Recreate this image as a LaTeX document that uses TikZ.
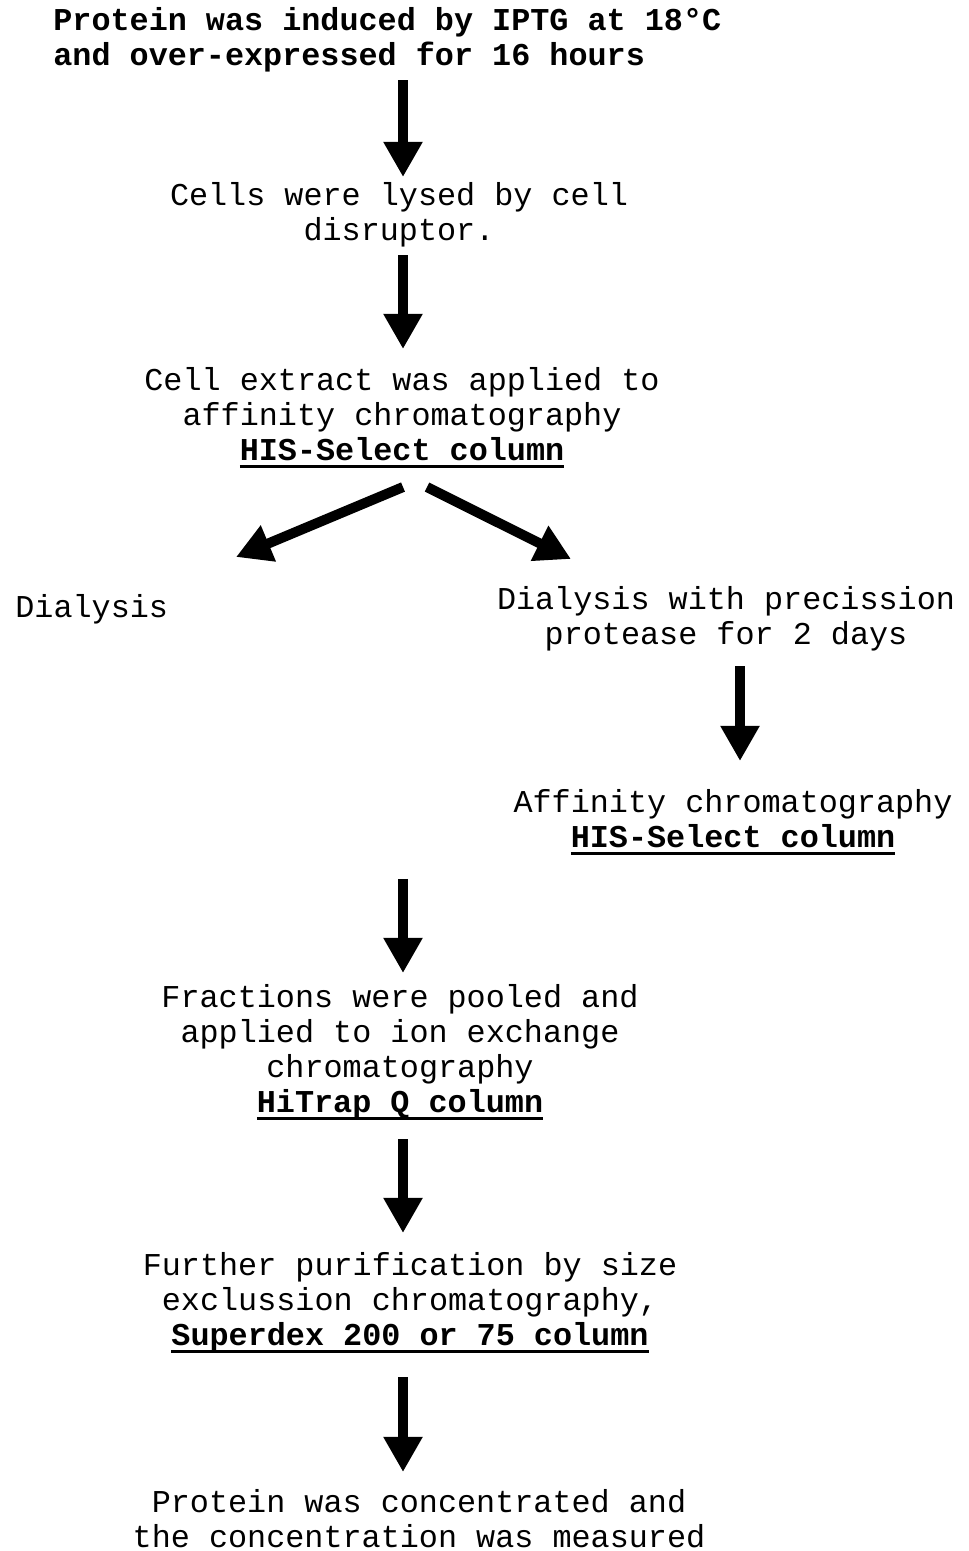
\documentclass[tikz,border=0pt]{standalone}
\usepackage{fontspec}
\setmonofont{Liberation Mono}
\usetikzlibrary{arrows.meta,calc}

\newcommand\colname[1]{\setbox0\hbox{\bfseries#1}\rlap{\rule[-4pt]{\wd0}{1.7pt}}\box0}

\tikzset{
  stage/.style={font=\ttfamily\fontsize{18.1}{20}\selectfont, align=center, inner sep=0pt, anchor=north},
  lead/.style={stage, align=left, anchor=north west, font=\ttfamily\bfseries\fontsize{18.1}{20}\selectfont},
  flow/.style={line width=5.7pt, -{Triangle[width=21pt,length=20pt]}},
}

\begin{document}
\begin{tikzpicture}[x=0.02cm,y=-0.02cm]
\useasboundingbox (0,0) rectangle (969,1551);
\coordinate (spine) at (403,0);
\coordinate (branch) at (740,0);

\node[lead] (induce) at (53,7) {Protein was induced by IPTG at 18°C\\and over-expressed for 16 hours};
\node[stage] (lyse) at (399,182) {Cells were lysed by cell\\disruptor.};
\node[stage] (extract) at (402,367) {Cell extract was applied to\\affinity chromatography\\\colname{HIS-Select column}};
\node[stage,anchor=north west] (dialysis) at (15,594) {Dialysis};
\node[stage] (protease) at (726,586) {Dialysis with precission\\protease for 2 days};
\node[stage] (affinity) at (733,789) {Affinity chromatography\\\colname{HIS-Select column}};
\node[stage] (pool) at (400,984) {Fractions were pooled and\\applied to ion exchange\\chromatography\\\colname{HiTrap Q column}};
\node[stage] (sec) at (410,1252) {Further purification by size\\exclussion chromatography,\\\colname{Superdex 200 or 75 column}};
\node[stage] (conc) at (419,1489) {Protein was concentrated and\\the concentration was measured};

\draw[flow,shorten <=0.16cm,shorten >=0.1cm] (induce.south -| spine) -- (lyse.north -| spine);
\draw[flow,shorten <=0.16cm,shorten >=0.36cm] (lyse.south -| spine) -- (extract.north -| spine);
\draw[flow] ($(extract.south -| spine)+(0,19)$) -- ($(dialysis.north west)+(221,-37)$);
\draw[flow] ($(extract.south -| spine)+(24,19)$) -- ($(protease.north)+(-155,-27)$);
\draw[flow,shorten <=0.3cm,shorten >=0.56cm] (protease.south -| branch) -- (affinity.north -| branch);
\draw[flow,shorten <=0.48cm,shorten >=0.22cm] (affinity.south -| spine) -- (pool.north -| spine);
\draw[flow,shorten <=0.38cm,shorten >=0.38cm] (pool.south -| spine) -- (sec.north -| spine);
\draw[flow,shorten <=0.48cm,shorten >=0.34cm] (sec.south -| spine) -- (conc.north -| spine);
\end{tikzpicture}
\end{document}
